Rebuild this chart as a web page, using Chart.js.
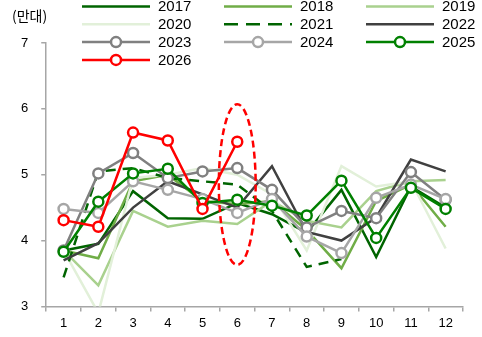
<!DOCTYPE html>
<html>
<head>
<meta charset="utf-8">
<script src="https://cdn.jsdelivr.net/npm/chart.js@4.4.0/dist/chart.umd.min.js"></script>
<style>
  html, body { margin: 0; padding: 0; background: #fff; }
</style>
</head>
<body>
<canvas id="sales-chart" width="482" height="337"></canvas>
<script>
// monthly sales, unit: 만대
const months = ['1', '2', '3', '4', '5', '6', '7', '8', '9', '10', '11', '12'];
const yTicks = [3, 4, 5, 6, 7];
const unitLabel = '(만대)';

const years = ['2017', '2018', '2019', '2020', '2021', '2022', '2023', '2024', '2025', '2026'];
const sales2017 = [3.85, 3.95, 4.75, 4.34, 4.33, 4.57, 4.40, 4.12, 4.77, 3.75, 4.82, 4.50];
const sales2018 = [3.85, 3.73, 4.90, 5.00, 4.60, 4.55, 4.60, 4.16, 3.58, 4.60, 4.85, 4.21];
const sales2019 = [3.85, 3.32, 4.45, 4.21, 4.30, 4.25, 4.60, 4.30, 4.20, 4.75, 4.90, 4.92];
const sales2020 = [3.85, 2.90, 4.95, 5.00, 5.10, 5.00, 4.70, 3.85, 5.13, 4.82, 4.90, 3.88];
const sales2021 = [3.44, 5.05, 5.10, 4.95, 4.90, 4.85, 4.45, 3.60, 3.72, null, null, null];
const sales2022 = [3.70, 3.96, 4.50, 4.90, 4.70, 4.50, 5.13, 4.13, 4.00, 4.35, 5.23, 5.05];
const sales2023 = [3.85, 5.02, 5.33, 4.95, 5.05, 5.10, 4.77, 4.20, 4.45, 4.34, 5.04, 4.62];
const sales2024 = [4.48, 4.42, 4.90, 4.77, 4.63, 4.42, 4.63, 4.06, 3.81, 4.65, 4.85, 4.63];
const sales2025 = [3.83, 4.59, 5.02, 5.09, 4.57, 4.62, 4.53, 4.38, 4.91, 4.04, 4.80, 4.48];
const sales2026 = [4.31, 4.21, 5.64, 5.52, 4.48, 5.50, null, null, null, null, null, null];

// dashed ellipse around the latest month
const highlightMonth = '6';
const highlightTop = 6.07;
const highlightBottom = 3.63;

const seriesData = [sales2017, sales2018, sales2019, sales2020, sales2021,
                    sales2022, sales2023, sales2024, sales2025, sales2026];
const seriesColors = ['#006400', '#70AD47', '#A9D18E', '#E2F0D9', '#006400',
                      '#404040', '#808080', '#A6A6A6', '#008000', '#FF0000'];
const withMarkers = ['2023', '2024', '2025', '2026'];

const FONT = "'Liberation Sans', Arial, sans-serif";

const datasets = years.map((year, i) => {
    const marked = withMarkers.includes(year);
    return {
        label: year,
        data: seriesData[i],
        borderColor: seriesColors[i],
        backgroundColor: seriesColors[i],
        borderWidth: 2.5,
        borderDash: year === '2021' ? [10, 7] : [],
        pointRadius: marked ? 5 : 0,
        pointBorderWidth: 2.5,
        pointBackgroundColor: '#fff',
        pointBorderColor: seriesColors[i],
        tension: 0,
        fill: false,
        spanGaps: false,
        order: years.length - i
    };
});

// legend in a 3 column grid, drawn from the datasets
const gridLegend = {
    id: 'gridLegend',
    afterDraw(chart) {
        const ctx = chart.ctx;
        ctx.save();
        chart.data.datasets.forEach((ds, i) => {
            const col = i % 3;
            const row = Math.floor(i / 3);
            const x0 = 82 + col * 142;
            const y = 6.5 + row * 17.8;
            ctx.strokeStyle = ds.borderColor;
            ctx.lineWidth = 2.5;
            ctx.setLineDash(ds.borderDash.length ? [14, 8] : []);
            ctx.beginPath();
            ctx.moveTo(x0, y);
            ctx.lineTo(x0 + 68, y);
            ctx.stroke();
            ctx.setLineDash([]);
            if (ds.pointRadius > 0) {
                ctx.beginPath();
                ctx.arc(x0 + 34, y, 5, 0, Math.PI * 2);
                ctx.fillStyle = '#fff';
                ctx.fill();
                ctx.stroke();
            }
            ctx.fillStyle = '#000';
            ctx.font = '15px ' + FONT;
            ctx.textBaseline = 'middle';
            ctx.textAlign = 'left';
            ctx.fillText(ds.label, x0 + 76, y + 0.5);
        });
        ctx.font = "14px 'Noto Sans CJK KR', sans-serif";
        ctx.fillStyle = '#000';
        ctx.textBaseline = 'middle';
        ctx.fillText(unitLabel, 12, 16);
        ctx.restore();
    }
};

const highlightEllipse = {
    id: 'highlightEllipse',
    afterDatasetsDraw(chart) {
        const x = chart.scales.x;
        const y = chart.scales.y;
        const idx = months.indexOf(highlightMonth);
        const cx = x.getPixelForValue(idx);
        const step = x.getPixelForValue(1) - x.getPixelForValue(0);
        const top = y.getPixelForValue(highlightTop);
        const bottom = y.getPixelForValue(highlightBottom);
        const ctx = chart.ctx;
        ctx.save();
        ctx.strokeStyle = '#FF0000';
        ctx.lineWidth = 2.5;
        ctx.setLineDash([7, 4]);
        ctx.beginPath();
        ctx.ellipse(cx, (top + bottom) / 2, step * 0.53, (bottom - top) / 2, 0, 0, Math.PI * 2);
        ctx.stroke();
        ctx.restore();
    }
};

new Chart(document.querySelector('#sales-chart').getContext('2d'), {
    type: 'line',
    data: {
        labels: months,
        datasets: datasets
    },
    options: {
        responsive: false,
        animation: false,
        devicePixelRatio: 1,
        layout: { padding: { top: 43, left: 8, right: 19, bottom: 2.5 } },
        plugins: {
            legend: { display: false },
            tooltip: { enabled: false }
        },
        scales: {
            x: {
                offset: true,
                grid: {
                    offset: true,
                    drawOnChartArea: false,
                    tickLength: 5,
                    color: '#A6A6A6',
                    lineWidth: 1.5
                },
                border: { color: '#A6A6A6', width: 1.5 },
                ticks: { color: '#000', padding: 7, font: { family: FONT, size: 13, lineHeight: 0.7 } }
            },
            y: {
                min: yTicks[0],
                max: yTicks[yTicks.length - 1],
                afterBuildTicks: scale => {
                    scale.ticks = yTicks.map(v => ({ value: v }));
                },
                grid: {
                    drawOnChartArea: false,
                    tickLength: 5,
                    color: '#A6A6A6',
                    lineWidth: 1.5
                },
                border: { color: '#A6A6A6', width: 1.5 },
                ticks: { color: '#000', padding: 13, font: { family: FONT, size: 13 } }
            }
        }
    },
    plugins: [gridLegend, highlightEllipse]
});
</script>
</body>
</html>
